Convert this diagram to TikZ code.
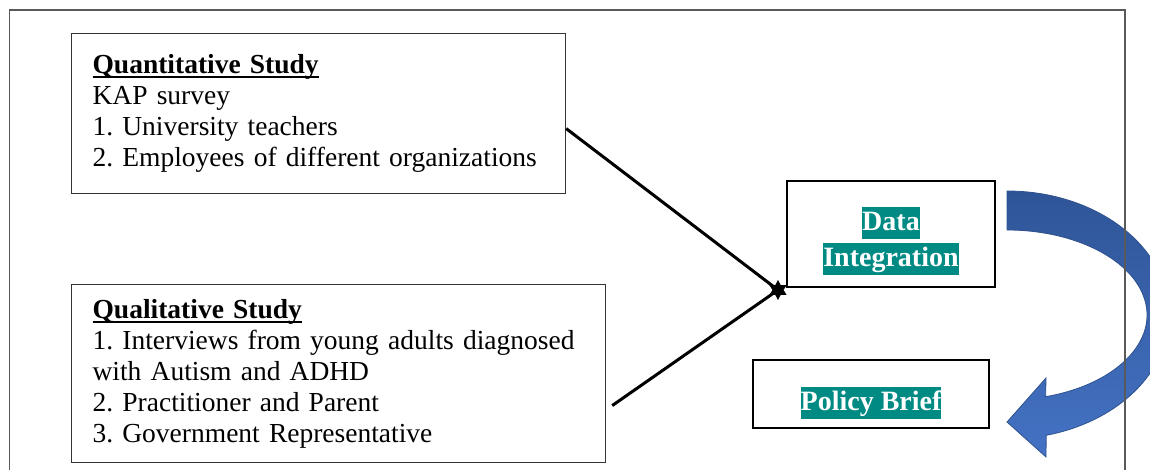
\documentclass[tikz,border=0pt]{standalone}
\usepackage{fontspec}
\setmainfont{Liberation Serif}
\usetikzlibrary{shapes.geometric}
\frenchspacing

\definecolor{markteal}{HTML}{008A84}
\definecolor{framegray}{HTML}{595959}
\definecolor{arrowtop}{HTML}{2F5597}
\definecolor{arrowbot}{HTML}{4472C4}
\definecolor{arrowedge}{HTML}{2F528F}

% bold heading with a rule close under it
\newcommand{\headrule}[1]{\setbox0\hbox{\textbf{#1}}\rlap{\rule[-4.5pt]{\wd0}{1.8pt}}\box0}
% teal highlight behind white bold words
\newcommand{\tealmark}[1]{{\setlength{\fboxsep}{0pt}\colorbox{markteal}{\rule[-8pt]{0pt}{32pt}\textcolor{white}{#1}}}}

\begin{document}
\begin{tikzpicture}[x=1pt,y=1pt,
    study/.style={draw=black!80, line width=1.2pt, anchor=north west, align=left,
      inner xsep=21pt, font=\fontsize{27.5}{31}\selectfont},
    stage/.style={draw=black, line width=2.4pt},
    stagetext/.style={align=center, inner sep=0pt, font=\fontsize{28}{36}\selectfont\bfseries},
    link/.style={line width=3pt}]
  \useasboundingbox (0,0) rectangle (1150,470);
  \clip (0,0) rectangle (1150,470);

  \node[study, text width=452pt, minimum height=160pt] (quant) at (71,437)
    {\headrule{Quantitative Study}\\
     KAP survey\\
     1. University teachers\\
     2. Employees of different organizations};
  \node[study, text width=492pt, minimum height=178pt] (qual) at (71,186)
    {\headrule{Qualitative Study}\\
     1. Interviews from young adults diagnosed\\
     with Autism and ADHD\\
     2. Practitioner and Parent\\
     3. Government Representative};

  \node[stage, minimum width=208pt, minimum height=106pt] (integ) at (891,236) {};
  \node[stagetext] (integtext) at ([yshift=-7pt]integ.center)
    {\tealmark{Data}\\ \tealmark{Integration}};
  \node[stage, minimum width=236pt, minimum height=68pt] (brief) at (871,76) {};
  \node[stagetext] (brieftext) at ([yshift=-9pt]brief.center)
    {\tealmark{Policy Brief}};

  \node[star, star points=6, star point ratio=1.8, fill=black, inner sep=0pt,
    minimum size=20pt] (meet) at (778,180) {};
  \draw[link] ([yshift=-15pt]quant.east) -- (meet.center);
  \draw[link] ([xshift=6pt,yshift=-32pt]qual.east) -- (meet.center);

  % curved arrow from integration down to the brief
  \path[draw=arrowedge, line width=0.8pt, top color=arrowtop, bottom color=arrowbot]
    (1007,279) arc[start angle=90, end angle=-76, x radius=162, y radius=124]
    -- (1046,13) -- (1007,48) -- (1046,92) -- (1045.6,73.3)
    arc[start angle=-74, end angle=90, x radius=140, y radius=85] -- cycle;

  % page frame
  \draw[framegray, line width=1.5pt] (9.5,0) -- (9.5,460) -- (1125,460) -- (1125,0);
\end{tikzpicture}
\end{document}
